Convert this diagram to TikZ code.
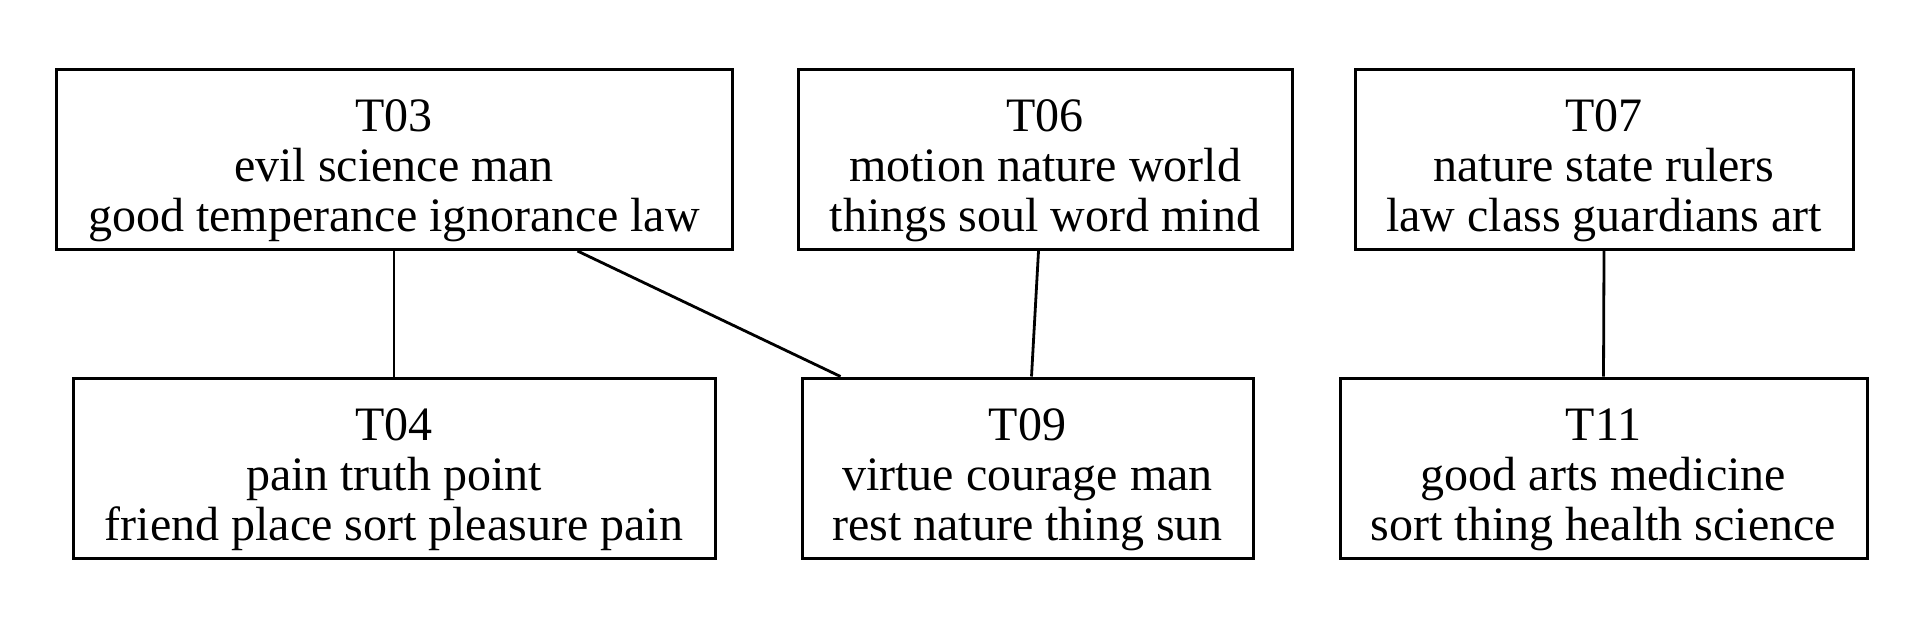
\documentclass[tikz,border=0pt]{standalone}
\usepackage{fontspec}
\setmainfont{Liberation Serif}
\usetikzlibrary{calc}
\newcommand\topictext[3]{\rule{0pt}{31pt}#1\\#2\\#3\rule[-9pt]{0pt}{9pt}}
\begin{document}
\begin{tikzpicture}[x=0.5pt,y=-0.5pt,
  topic/.style={draw=black, line width=1.5pt, inner sep=0pt, minimum height=90pt,
    align=center, font=\fontsize{24}{25}\selectfont},
  link/.style={draw=black, line width=1.4pt}]
\useasboundingbox[fill=white] (0,0) rectangle (1920,626);
\node[topic, minimum width=338pt] (t03) at (394,159.5) {\topictext{T03}{evil science man}{good temperance ignorance law}};
\node[topic, minimum width=247pt] (t06) at (1045,159.5) {\topictext{T06}{motion nature world}{things soul word mind}};
\node[topic, minimum width=249pt] (t07) at (1604,159.5) {\topictext{T07}{nature state rulers}{law class guardians art}};
\node[topic, minimum width=321pt] (t04) at (394,468) {\topictext{T04}{pain truth point}{friend place sort pleasure pain}};
\node[topic, minimum width=225.5pt] (t09) at (1027.5,468) {\topictext{T09}{virtue courage man}{rest nature thing sun}};
\node[topic, minimum width=263.5pt] (t11) at (1603.5,468) {\topictext{T11}{good arts medicine}{sort thing health science}};
\draw[link] (t03.south) -- (t04.north);
\draw[link] ($(t03.south west)+(523,0)$) -- ($(t09.north west)+(40,0)$);
\draw[link] ($(t06.south west)+(242,0)$) -- ($(t09.north west)+(231,0)$);
\draw[link] (t07.south) -- (t11.north);
\end{tikzpicture}
\end{document}
